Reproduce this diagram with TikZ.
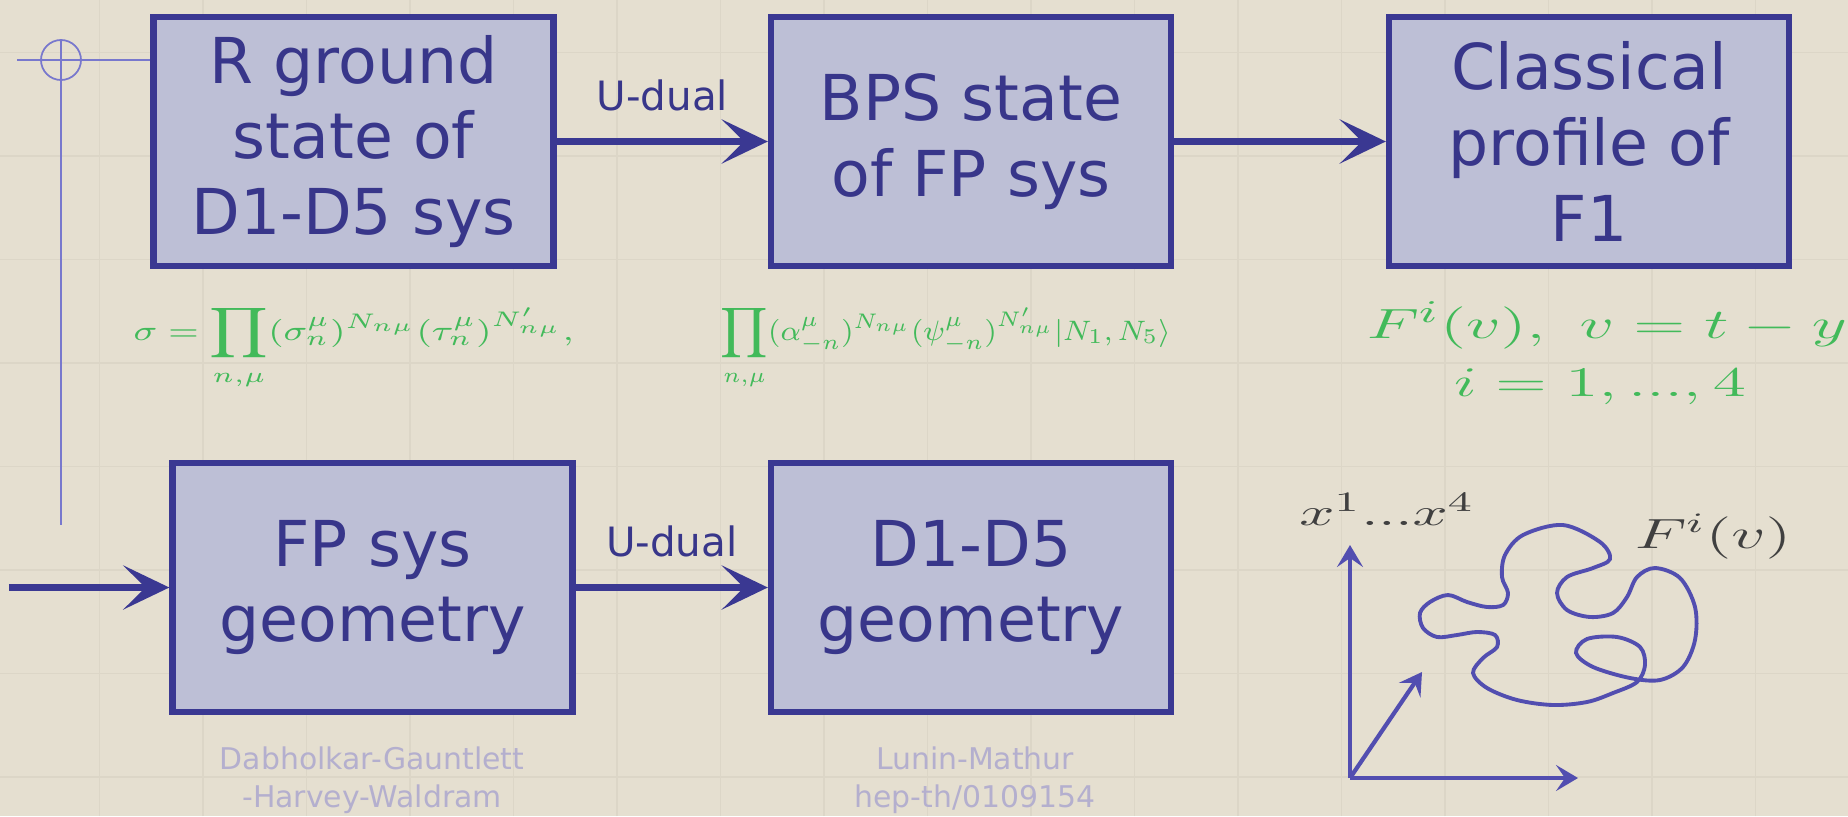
\documentclass[tikz,border=0pt]{standalone}
\usepackage{fontspec}
\setsansfont{DejaVu Sans}
\usepackage{graphicx}
\usetikzlibrary{arrows.meta}
\definecolor{slidebg}{RGB}{229,223,208}
\definecolor{slidegrid}{RGB}{220,214,199}
\definecolor{boxfill}{RGB}{189,191,214}
\definecolor{boxline}{RGB}{58,56,146}
\definecolor{boxtext}{RGB}{56,54,138}
\definecolor{formgreen}{RGB}{66,186,90}
\definecolor{refgray}{RGB}{180,175,206}
\definecolor{penblue}{RGB}{82,78,176}
\definecolor{annotblue}{RGB}{120,120,205}
% stretched math, as on the slide
\newcommand{\wmath}[2][1.5]{\scalebox{#1}[1]{$#2$}}
\newcommand{\wbox}[2]{\resizebox{#1}{\height}{$#2$}}
\tikzset{
  statebox/.style={draw=boxline, line width=1.8pt, fill=boxfill, minimum width=4.0cm,
    minimum height=2.49cm, align=center, text=boxtext,
    font=\sffamily\fontsize{18}{21.5}\selectfont,
    execute at begin node={\rule{0pt}{6.1mm}}},
  duality/.style={draw=boxline, line width=2.2pt, -{Stealth[length=4.6mm,width=4.4mm,inset=2.2mm]}},
  dlabel/.style={text=boxtext, font=\sffamily\fontsize{11.5}{13}\selectfont, above=1.5mm},
  formula/.style={text=formgreen, inner sep=0pt},
  refnote/.style={text=refgray, align=center, font=\sffamily\fontsize{8.5}{10.8}\selectfont},
  axis/.style={draw=penblue, line width=1.2pt, -{Stealth[length=2.2mm,width=2.6mm,inset=0.9mm]}},
  annot/.style={draw=annotblue, line width=0.5pt},
  gridline/.style={draw=slidegrid, line width=0.5pt}
}
\begin{document}
\begin{tikzpicture}
  \useasboundingbox (0,0) rectangle (18.48,8.16);
  % slide background with its faint grid
  \fill[slidebg] (0,0) rectangle (18.48,8.16);
  \foreach \gx in {0,...,17}
    \draw[gridline] ({0.995+1.035*\gx},0) -- ++(0,8.16);
  \foreach \gy in {-2,...,5}
    \draw[gridline] (0,{2.46+1.035*\gy}) -- ++(18.48,0);
  % upper row
  \node[statebox] (rground) at (3.535,6.745) {R ground\\state of\\D1-D5 sys};
  \node[statebox] (bps) at (9.71,6.745) {BPS state\\of FP sys};
  \node[statebox] (profile) at (15.89,6.745) {Classical\\profile of\\F1};
  % lower row
  \node[statebox] (fpgeom) at (3.725,2.285) {FP sys\\geometry};
  \node[statebox] (ddgeom) at (9.71,2.285) {D1-D5\\geometry};
  % arrows between the boxes
  \draw[duality] (rground) -- node[dlabel] (udual) {U-dual} (bps);
  \draw[duality] (bps) -- (profile);
  \draw[duality] (fpgeom) -- node[dlabel] (udualb) {U-dual} (ddgeom);
  \coordinate (feed) at (0.09,2.285);
  \draw[duality] (feed) -- (fpgeom);
  % pen marks on the left
  \coordinate (cross) at (0.61,7.56);
  \coordinate (crossL) at (0.17,7.56);
  \coordinate (crossT) at (0.61,7.76);
  \coordinate (crossB) at (0.61,2.91);
  \draw[annot] (crossL) -- (crossL -| rground.west);
  \draw[annot] (crossT) -- (crossB);
  \draw[annot] (cross) circle (0.2);
  % green formulas
  \node[formula, anchor=base west, font=\fontsize{8.5}{10}\selectfont] (fsigma) at (1.33,4.76)
    {\wbox{4.4cm}{\displaystyle \sigma=\prod_{n,\mu}(\sigma^\mu_n)^{N_{n\mu}}(\tau^\mu_n)^{N'_{n\mu}},}};
  \node[formula, anchor=base west, font=\fontsize{8.5}{10}\selectfont] (fbps) at (7.20,4.76)
    {\wbox{4.5cm}{\displaystyle \prod_{n,\mu}(\alpha^\mu_{-n})^{N_{n\mu}}(\psi^\mu_{-n})^{N'_{n\mu}}|N_1,N_5\rangle}};
  \node[formula, anchor=base west, font=\fontsize{12.5}{14}\selectfont] (fprofile) at (13.66,4.78)
    {\wbox{4.8cm}{F^i(v),\ v=t-y}};
  \node[formula, anchor=base, font=\fontsize{12.5}{14}\selectfont] (frange) at (16.0,4.20)
    {\wmath[1.6]{i=1,...,4}};
  % sketch of the profile
  \coordinate (origin) at (13.50,0.38);
  \coordinate (upax) at (13.50,2.71);
  \coordinate (rightax) at (15.78,0.38);
  \coordinate (slantax) at (14.22,1.44);
  \draw[axis] (origin) -- (upax);
  \draw[axis] (origin) -- (rightax);
  \draw[axis] (origin) -- (slantax);
  \node[anchor=base, text=black!75, font=\fontsize{11}{13}\selectfont] (xlab) at (13.87,2.91)
    {\wmath[1.6]{x^1...x^4}};
  \node[anchor=base, text=black!75, font=\fontsize{12}{14}\selectfont] (flab) at (17.13,2.68)
    {\wmath[1.6]{F^i(v)}};
  \draw[penblue, line width=1.1pt] plot[smooth cycle, tension=0.55] coordinates {
    (15.63,2.91) (16.00,2.74) (16.10,2.57) (15.93,2.48) (15.67,2.39) (15.57,2.23)
    (15.67,2.06) (15.90,1.99) (16.13,2.03) (16.27,2.19) (16.37,2.39) (16.55,2.48)
    (16.80,2.38) (16.95,2.09) (16.95,1.76) (16.83,1.49) (16.60,1.36) (16.30,1.38)
    (15.93,1.49) (15.76,1.63) (15.87,1.77) (16.17,1.79) (16.40,1.69) (16.45,1.51)
    (16.37,1.34) (16.13,1.23) (15.87,1.14) (15.53,1.11) (15.17,1.16) (14.87,1.28)
    (14.73,1.43) (14.83,1.58) (14.97,1.69) (14.95,1.81) (14.77,1.84) (14.57,1.81)
    (14.37,1.79) (14.23,1.88) (14.20,2.03) (14.30,2.14) (14.48,2.21) (14.67,2.14)
    (14.87,2.09) (15.03,2.11) (15.08,2.23) (15.02,2.39) (15.05,2.61) (15.23,2.81)};
  % references under the lower row
  \node[refnote] (dghw) at (3.72,0.36) {Dabholkar-Gauntlett\\-Harvey-Waldram};
  \node[refnote] (lunin) at (9.75,0.36) {Lunin-Mathur\\hep-th/0109154};
\end{tikzpicture}
\end{document}
